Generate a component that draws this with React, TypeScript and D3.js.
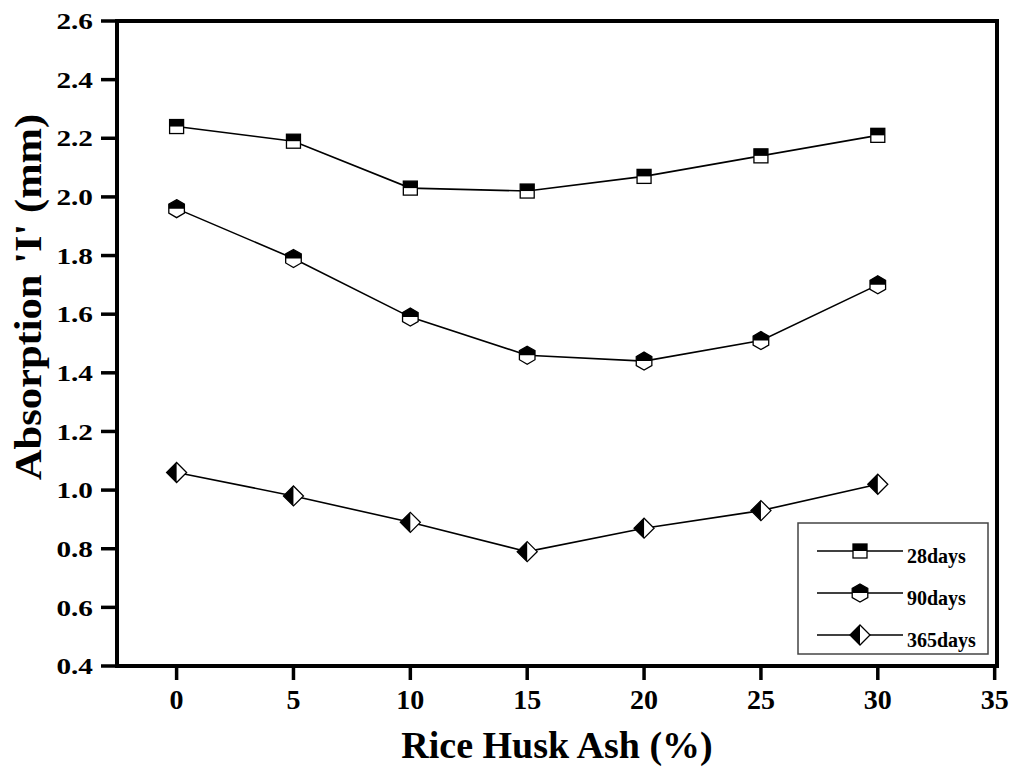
import { useMemo } from "react";
import * as d3 from "d3";

const WIDTH = 1016;
const HEIGHT = 769;
const PLOT = { left: 117, right: 997, top: 21, bottom: 666 };

const RHA = [0, 5, 10, 15, 20, 25, 30];
const DAYS_28 = [2.24, 2.19, 2.03, 2.02, 2.07, 2.14, 2.21];
const DAYS_90 = [1.96, 1.79, 1.59, 1.46, 1.44, 1.51, 1.7];
const DAYS_365 = [1.06, 0.98, 0.89, 0.79, 0.87, 0.93, 1.02];
const SERIES_NAMES = ["28days", "90days", "365days"];
const X_TICKS = [0, 5, 10, 15, 20, 25, 30, 35];
const Y_TICKS = [0.4, 0.6, 0.8, 1.0, 1.2, 1.4, 1.6, 1.8, 2.0, 2.2, 2.4, 2.6];

const FONT = "'Liberation Serif', 'Times New Roman', serif";

function Marker({ kind, x, y }: { kind: string; x: number; y: number }) {
  if (kind === "square") {
    const s = 7;
    return (
      <g transform={`translate(${x},${y})`}>
        <rect x={-s} y={-s} width={2 * s} height={2 * s} fill="#fff" stroke="#000" strokeWidth={1.3} />
        <rect x={-s} y={-s} width={2 * s} height={s} fill="#000" />
      </g>
    );
  }
  if (kind === "hex") {
    const r = 9;
    const c = r * Math.cos(Math.PI / 6);
    const full = [
      [0, -r],
      [c, -r / 2],
      [c, r / 2],
      [0, r],
      [-c, r / 2],
      [-c, -r / 2],
    ];
    const top = [
      [-c, 0],
      [-c, -r / 2],
      [0, -r],
      [c, -r / 2],
      [c, 0],
    ];
    return (
      <g transform={`translate(${x},${y})`}>
        <polygon points={full.map((p) => p.join(",")).join(" ")} fill="#fff" stroke="#000" strokeWidth={1.3} />
        <polygon points={top.map((p) => p.join(",")).join(" ")} fill="#000" />
      </g>
    );
  }
  const r = 10;
  return (
    <g transform={`translate(${x},${y})`}>
      <polygon points={`0,${-r} ${r},0 0,${r} ${-r},0`} fill="#fff" stroke="#000" strokeWidth={1.3} />
      <polygon points={`0,${-r} 0,${r} ${-r},0`} fill="#000" />
    </g>
  );
}

export default function App() {
  const x = useMemo(() => d3.scaleLinear().domain([-2.55, 35.1]).range([PLOT.left, PLOT.right]), []);
  const y = useMemo(() => d3.scaleLinear().domain([0.4, 2.6]).range([PLOT.bottom, PLOT.top]), []);

  const series = [
    { name: SERIES_NAMES[0], values: DAYS_28, kind: "square" },
    { name: SERIES_NAMES[1], values: DAYS_90, kind: "hex" },
    { name: SERIES_NAMES[2], values: DAYS_365, kind: "diamond" },
  ];

  const line = d3
    .line<[number, number]>()
    .x((d) => x(d[0]))
    .y((d) => y(d[1]));

  return (
    <svg
      width={WIDTH}
      height={HEIGHT}
      style={{ position: "absolute", left: 0, top: 0, background: "#fff" }}
      fontFamily={FONT}
      fontWeight="bold"
    >
      {series.map((s) => (
        <path
          key={s.name}
          d={line(RHA.map((r, i) => [r, s.values[i]] as [number, number])) ?? ""}
          fill="none"
          stroke="#000"
          strokeWidth={1.6}
        />
      ))}
      {series.map((s) =>
        RHA.map((r, i) => <Marker key={`${s.name}-${r}`} kind={s.kind} x={x(r)} y={y(s.values[i])} />)
      )}

      {/* frame */}
      <rect
        x={PLOT.left}
        y={PLOT.top}
        width={PLOT.right - PLOT.left}
        height={PLOT.bottom - PLOT.top}
        fill="none"
        stroke="#000"
        strokeWidth={4}
      />

      {Y_TICKS.map((t) => (
        <g key={`y${t}`} transform={`translate(0,${y(t)})`}>
          <line x1={PLOT.left - 16} x2={PLOT.left} stroke="#000" strokeWidth={3.5} />
          <text transform={`translate(${PLOT.left - 24},0) scale(1.22,1)`} dy="0.34em" textAnchor="end" fontSize={24}>
            {t.toFixed(1)}
          </text>
        </g>
      ))}
      {X_TICKS.map((t) => (
        <g key={`x${t}`} transform={`translate(${x(t)},0)`}>
          <line y1={PLOT.bottom} y2={PLOT.bottom + 14} stroke="#000" strokeWidth={3.5} />
          <text y={709} textAnchor="middle" fontSize={28}>
            {t}
          </text>
        </g>
      ))}

      <text x={557} y={758} textAnchor="middle" fontSize={38}>
        Rice Husk Ash (%)
      </text>
      <text transform={`translate(41,297) rotate(-90) scale(1.12,1)`} textAnchor="middle" fontSize={38}>
        Absorption 'I' (mm)
      </text>

      {/* legend */}
      <rect x={798} y={523} width={190} height={131} fill="#fff" stroke="#444" strokeWidth={1.5} />
      {series.map((s, i) => {
        const cy = 551 + i * 42;
        return (
          <g key={`leg-${s.name}`}>
            <line x1={817} x2={903} y1={cy} y2={cy} stroke="#000" strokeWidth={1.6} />
            <Marker kind={s.kind} x={860} y={cy} />
            <text x={907} y={cy + 12} fontSize={20}>
              {s.name}
            </text>
          </g>
        );
      })}
    </svg>
  );
}
